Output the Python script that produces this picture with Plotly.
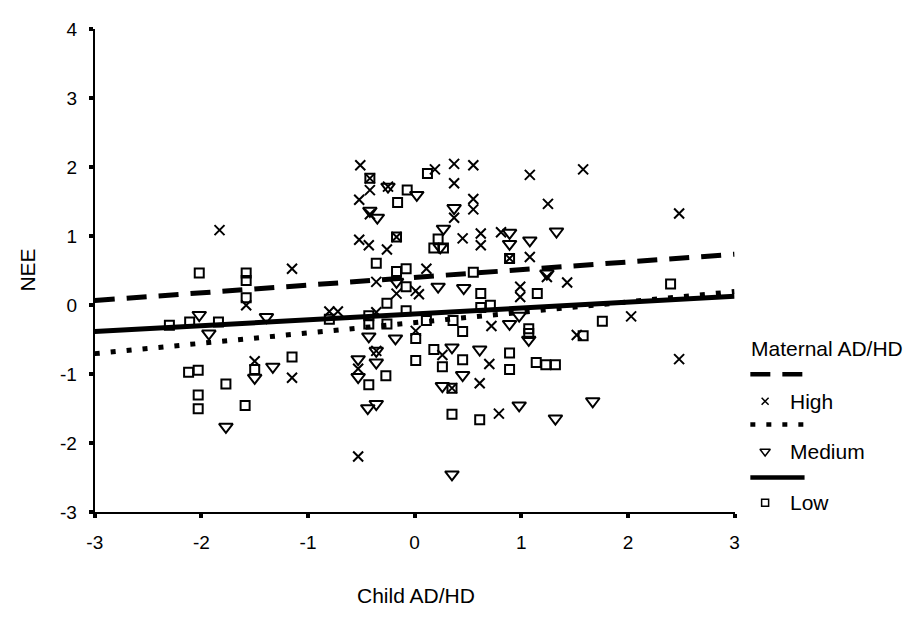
import plotly.graph_objects as go

W, H = 918, 618

# ---------------- data ----------------
high_x = [-1.83, -1.15, -1.58, -0.80, -0.72, -0.51, -0.42, 0.19, 0.37, 0.55,
          1.08, 1.58, -0.42, -0.25, -0.52, 0.37, 0.55, 0.55, 0.37, -0.42,
          1.25, -0.52, -0.43, -0.26, -0.17, 0.45, 0.62, 0.62, 0.81, 0.89,
          1.08, 0.11, 1.24, 1.43, -0.36, -0.17, 0.01, 0.04, 0.99, 0.99,
          -0.36, 0.72, 0.01, 1.52, -0.36, -0.53, 0.26, 0.70, 0.61, 0.35,
          0.79, -0.53, 2.03, 2.48, 2.48, -1.50, -1.15]
high_y = [1.09, 0.53, 0.00, -0.09, -0.09, 2.03, 1.84, 1.97, 2.05, 2.03,
          1.89, 1.97, 1.67, 1.72, 1.53, 1.77, 1.54, 1.39, 1.27, 1.32,
          1.47, 0.95, 0.87, 0.81, 0.99, 0.97, 1.04, 0.87, 1.06, 0.68,
          0.70, 0.53, 0.41, 0.33, 0.34, 0.17, 0.21, 0.16, 0.27, 0.12,
          -0.10, -0.30, -0.37, -0.43, -0.66, -0.92, -0.72, -0.85, -1.13, -1.20,
          -1.57, -2.19, -0.16, -0.78, 1.33, -0.81, -1.05]

medium_x = [-2.02, -1.39, -1.93, -0.25, 0.02, 0.37, -0.42, -0.35, 0.27, 1.33,
            0.24, 0.89, 0.89, 1.08, 1.24, -0.17, 0.22, 0.46, 0.89, 0.98,
            -0.43, -0.18, 1.07, -0.36, -0.36, -0.53, -0.53, 0.35, 0.61, 0.45,
            0.26, -0.44, -0.36, 0.98, 1.32, 0.35, 1.67, -1.50, -1.33, -1.77]
medium_y = [-0.14, -0.17, -0.41, 1.72, 1.60, 1.41, 1.37, 1.27, 1.11, 1.07,
            0.84, 1.05, 0.89, 0.94, 0.46, 0.34, 0.27, 0.25, -0.27, -0.15,
            -0.45, -0.48, -0.50, -0.66, -0.83, -0.78, -1.04, -0.61, -0.64, -1.01,
            -1.17, -1.49, -1.43, -1.45, -1.64, -2.45, -1.39, -1.05, -0.89, -1.76]

low_x = [-2.02, -1.58, -1.58, -1.58, -2.30, -2.11, -1.84, -0.80, -0.42, 0.12,
         -0.07, -0.16, -0.17, 0.22, 0.18, 0.27, 0.89, -0.36, -0.17, -0.08,
         0.55, -0.08, 0.62, 1.15, -0.26, -0.08, 0.71, 0.62, -0.43, -0.43,
         -0.26, 0.11, 0.36, 1.07, 1.07, 0.45, 0.01, 1.58, -0.43, -0.27,
         0.01, 0.18, 0.26, 0.45, 0.89, 0.89, 1.14, 1.23, 1.32, 0.35,
         0.35, 0.61, 2.40, 1.76, -1.15, -1.50, -2.12, -2.03, -1.77, -2.03,
         -2.03, -1.59]
low_y = [0.47, 0.47, 0.36, 0.11, -0.29, -0.24, -0.24, -0.20, 1.84, 1.91,
         1.67, 1.49, 0.99, 0.96, 0.83, 0.83, 0.68, 0.61, 0.49, 0.53,
         0.48, 0.27, 0.17, 0.17, 0.03, -0.08, 0.00, -0.03, -0.15, -0.27,
         -0.27, -0.22, -0.22, -0.34, -0.41, -0.38, -0.48, -0.44, -1.15, -1.02,
         -0.80, -0.64, -0.89, -0.79, -0.69, -0.93, -0.83, -0.86, -0.86, -1.20,
         -1.58, -1.66, 0.31, -0.23, -0.75, -0.93, -0.97, -0.94, -1.14, -1.30,
         -1.50, -1.45]

fit_x = [-3, 3]
high_fit = [0.07, 0.74]
medium_fit = [-0.70, 0.20]
low_fit = [-0.38, 0.13]

x_ticks = [-3, -2, -1, 0, 1, 2, 3]
y_ticks = [-3, -2, -1, 0, 1, 2, 3, 4]

group_names = ["High", "Medium", "Low"]
legend_title = "Maternal AD/HD"
x_title = "Child AD/HD"
y_title = "NEE"

# ---------------- styles ----------------
FONT = "Liberation Sans, Arial, sans-serif"
BLACK = "#000000"
symbols = ["x-thin", "triangle-down-open", "square-open"]
sizes = [10, 12, 9]
dashes = ["20px,12px", "5px,11px", "solid"]

fig = go.Figure()

series = [(high_x, high_y), (medium_x, medium_y), (low_x, low_y)]
for (sx, sy), sym, sz, nm in zip(series, symbols, sizes, group_names):
    fig.add_trace(go.Scatter(
        x=sx, y=sy, mode="markers", name=nm, showlegend=False,
        marker=dict(symbol=sym, size=sz, color=BLACK,
                    line=dict(color=BLACK, width=2)),
    ))

for fy, dsh, nm in zip([high_fit, medium_fit, low_fit], dashes, group_names):
    fig.add_trace(go.Scatter(
        x=fit_x, y=fy, mode="lines", name=nm + " fit", showlegend=False,
        line=dict(color=BLACK, width=5, dash=dsh),
    ))

# ---------------- hand-made legend on an overlay axis (pixel units) ----------------
leg_line_x = [753, 808]
leg_line_y = [377, 429, 484]
leg_mark_x = 768
leg_text_x = 791
leg_item_y = [405, 457, 510]
leg_sizes = [7, 9, 7]
for ly, dsh, my, sym, sz, nm in zip(leg_line_y, dashes, leg_item_y, symbols, leg_sizes, group_names):
    fig.add_trace(go.Scatter(
        x=leg_line_x, y=[ly, ly], mode="lines", xaxis="x2", yaxis="y2",
        showlegend=False, hoverinfo="skip",
        line=dict(color=BLACK, width=4.5, dash=dsh),
    ))
    fig.add_trace(go.Scatter(
        x=[leg_mark_x], y=[my], mode="markers", xaxis="x2", yaxis="y2",
        showlegend=False, hoverinfo="skip",
        marker=dict(symbol=sym, size=sz, color=BLACK, line=dict(color=BLACK, width=1.5)),
    ))
    fig.add_annotation(x=leg_text_x, y=my, xref="x2", yref="y2", text=nm,
                       showarrow=False, xanchor="left", yanchor="middle",
                       font=dict(family=FONT, size=21, color=BLACK))

fig.add_annotation(x=752, y=350, xref="x2", yref="y2", text=legend_title,
                   showarrow=False, xanchor="left", yanchor="middle",
                   font=dict(family=FONT, size=21, color=BLACK))

# axis titles
fig.add_annotation(x=414 / W, y=1 - 606 / H, xref="paper", yref="paper", text=x_title,
                   showarrow=False, xanchor="center", yanchor="middle",
                   font=dict(family=FONT, size=21, color=BLACK))
fig.add_annotation(x=20 / W, y=1 - 269 / H, xref="paper", yref="paper", text=y_title,
                   textangle=-90, showarrow=False, xanchor="center", yanchor="middle",
                   font=dict(family=FONT, size=21, color=BLACK))

axis_common = dict(showgrid=False, zeroline=False, showline=True, linecolor=BLACK,
                   linewidth=2, ticks="outside", ticklen=4, tickwidth=4, tickcolor=BLACK,
                   tickfont=dict(family=FONT, size=19, color=BLACK))

fig.update_layout(
    width=W, height=H,
    margin=dict(l=0, r=0, t=0, b=0),
    paper_bgcolor="white", plot_bgcolor="white",
    showlegend=False,
    xaxis=dict(domain=[88 / W, 737 / W], range=[-3, 3], tickvals=x_ticks,
               ticktext=[str(v) for v in x_ticks], anchor="y",
               ticklabelstandoff=8, **axis_common),
    yaxis=dict(domain=[1 - 520 / H, 1 - 20 / H], range=[-3, 4], tickvals=y_ticks,
               ticktext=[str(v) for v in y_ticks], anchor="x",
               ticklabelstandoff=8, **axis_common),
    xaxis2=dict(domain=[740 / W, 1], range=[740, 918], visible=False, anchor="y2",
                fixedrange=True),
    yaxis2=dict(domain=[1 - 530 / H, 1 - 330 / H], range=[530, 330], visible=False,
                anchor="x2", fixedrange=True),
)

fig.write_html("out.html", config={"displayModeBar": False},
               post_script="document.body.style.margin='0';document.body.style.overflow='hidden';")
